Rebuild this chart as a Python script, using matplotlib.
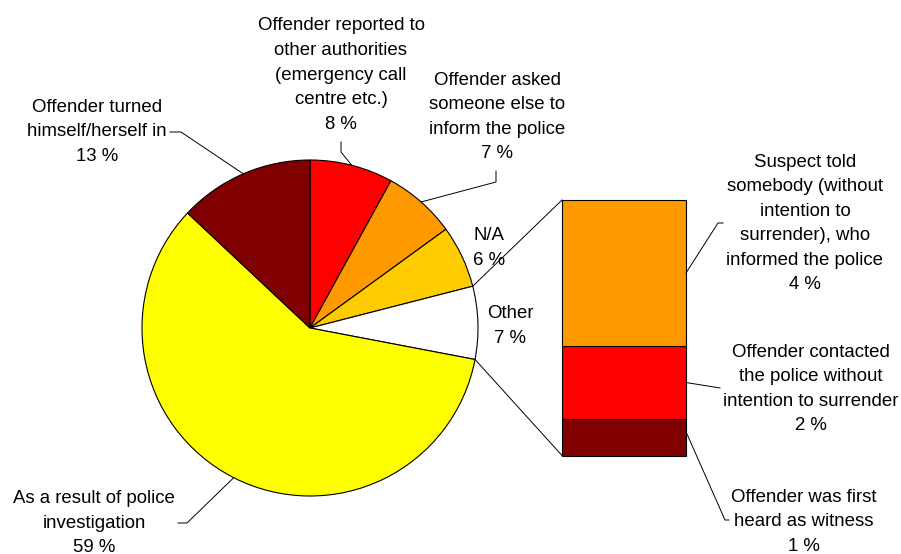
import numpy as np
import matplotlib
matplotlib.use("Agg")
import matplotlib.pyplot as plt

plt.rcParams['font.family'] = ['Liberation Sans', 'DejaVu Sans']

# Pie: how the offender came to police attention (%), clockwise from 12 o'clock
pie_labels = [
    "Offender reported to\nother authorities\n(emergency call\ncentre etc.)",
    "Offender asked\nsomeone else to\ninform the police",
    "N/A",
    "Other",
    "As a result of police\ninvestigation",
    "Offender turned\nhimself/herself in",
]
pie_values = [8, 7, 6, 7, 59, 13]
pie_colors = ["#FF0000", "#FF9900", "#FFCC00", "#FFFFFF", "#FFFF00", "#800000"]

# Breakdown of "Other" (%), stacked from bottom to top
bar_labels = [
    "Offender was first\nheard as witness",
    "Offender contacted\nthe police without\nintention to surrender",
    "Suspect told\nsomebody (without\nintention to\nsurrender), who\ninformed the police",
]
bar_values = [1, 2, 4]
bar_colors = ["#800000", "#FF0000", "#FF9900"]

W, H = 901, 554
fig = plt.figure(figsize=(W / 100, H / 100), dpi=100)
ax = fig.add_axes([0, 0, 1, 1])


def Y(p):
    """Convert a top-down pixel row into axis y."""
    return H - p


FS = 13.4
cx, cy, R = 310, Y(328), 168
START = 90

wedges, _ = ax.pie(pie_values, colors=pie_colors, startangle=START,
                   counterclock=False, radius=R, center=(cx, cy),
                   wedgeprops=dict(edgecolor="black", linewidth=0.8),
                   frame=True)
ax.set_xlim(0, W)
ax.set_ylim(0, H)
ax.set_aspect("equal")
ax.axis("off")

# Wedge boundary angles (degrees), going clockwise
total = float(sum(pie_values))
bounds = START - 360.0 * np.concatenate([[0], np.cumsum(pie_values)]) / total
mids = (bounds[:-1] + bounds[1:]) / 2


def rim(deg, r=R):
    a = np.deg2rad(deg)
    return cx + r * np.cos(a), cy + r * np.sin(a)


# Stacked bar for the "Other" slice
bar_x, bar_w = 624, 124
bar_bottom = Y(455.5)
scale = 36.5  # pixels per percentage point
bottoms = np.concatenate([[0], np.cumsum(bar_values)[:-1]]) * scale + bar_bottom
heights = np.array(bar_values) * scale
ax.bar([bar_x] * len(bar_values), heights, width=bar_w, bottom=bottoms,
       color=bar_colors, edgecolor="black", linewidth=0.8)
bar_left = bar_x - bar_w / 2
bar_right = bar_x + bar_w / 2
bar_top = bottoms[-1] + heights[-1]

# Connector lines between the "Other" wedge and the bar
p_hi = rim(bounds[3])
p_lo = rim(bounds[4])
ax.plot([p_hi[0], bar_left], [p_hi[1], bar_top], color="black", lw=0.7)
ax.plot([p_lo[0], bar_left], [p_lo[1], bar_bottom], color="black", lw=0.7)

line_kw = dict(color="black", lw=0.7)
text_kw = dict(fontsize=FS, ha="center", va="center", linespacing=1.58,
               color="black")


def label(x, y_px, lab, val):
    ax.text(x, Y(y_px), f"{lab}\n{val} %", **text_kw)


# Pie labels and leader lines
label(341, 75, pie_labels[0], pie_values[0])
p = rim(mids[0])
ax.plot([p[0], 341, 341], [p[1], Y(152), Y(142)], **line_kw)

label(497, 117, pie_labels[1], pie_values[1])
p = rim(mids[1])
ax.plot([p[0], 496, 496], [p[1], Y(182), Y(171)], **line_kw)

label(489, 248, pie_labels[2], pie_values[2])
label(510, 326, pie_labels[3], pie_values[3])

label(94, 523, pie_labels[4], pie_values[4])
p = rim(mids[4])
ax.plot([p[0], 187, 178], [p[1], Y(523), Y(523)], **line_kw)

label(97, 132, pie_labels[5], pie_values[5])
p = rim(mids[5])
ax.plot([p[0], 181, 170], [p[1], Y(132), Y(132)], **line_kw)

# Bar labels and leader lines
label(804, 522, bar_labels[0], bar_values[0])
ax.plot([bar_right, 725, 729],
        [bottoms[0] + heights[0] * 0.65, Y(520), Y(520)], **line_kw)

label(811, 389, bar_labels[1], bar_values[1])
ax.plot([bar_right, 720], [bottoms[1] + heights[1] * 0.5, Y(388)], **line_kw)

label(805, 223.5, bar_labels[2], bar_values[2])
ax.plot([bar_right, 718, 723],
        [bottoms[2] + heights[2] * 0.5, Y(223), Y(223)], **line_kw)

fig.savefig("out.png", dpi=100)
